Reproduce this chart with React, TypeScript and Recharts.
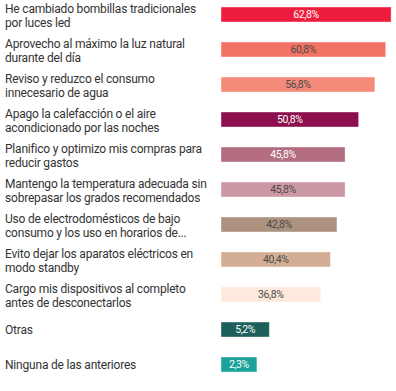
import React from 'react'
import { BarChart, Bar, XAxis, YAxis } from 'recharts'

// Categories (line breaks as in the original)
const categories = [
  'He cambiado bombillas tradicionales\npor luces led',
  'Aprovecho al máximo la luz natural\ndurante del día',
  'Reviso y reduzco el consumo\ninnecesario de agua',
  'Apago la calefacción o el aire\nacondicionado por las noches',
  'Planifico y optimizo mis compras para\nreducir gastos',
  'Mantengo la temperatura adecuada sin\nsobrepasar los grados recomendados',
  'Uso de electrodomésticos de bajo\nconsumo y los uso en horarios de...',
  'Evito dejar los aparatos eléctricos en\nmodo standby',
  'Cargo mis dispositivos al completo\nantes de desconectarlos',
  'Otras',
  'Ninguna de las anteriores',
]

// Percent of respondents
const values = [62.8, 60.8, 56.8, 50.8, 45.8, 45.8, 42.8, 40.4, 36.8, 5.2, 2.3]

const barColors = [
  '#EF1D3D', '#F27264', '#F58A7A', '#8D0F4D', '#B36C80', '#CD98A5',
  '#AD9280', '#D3AE95', '#FDE9DD', '#1E5F5C', '#1BA29A',
]

// white text on the dark bars
const lightText = [true, false, false, true, true, false, false, false, false, true, true]

const data = categories.map((name, i) => ({ name, value: values[i] }))

const fmt = (v: number) => v.toFixed(1).replace('.', ',') + '%'

const CategoryTick = (props: any) => {
  const { y, payload } = props
  const lines = String(payload.value).split('\n')
  return (
    <text
      x={5}
      y={y}
      fill="#333"
      fontSize={12}
      letterSpacing={-0.2}
      fontFamily="Roboto, 'Noto Sans', sans-serif"
      textAnchor="start"
    >
      {lines.length === 1 ? (
        <tspan x={5} dy={4.5}>{lines[0]}</tspan>
      ) : (
        lines.map((ln, i) => (
          <tspan key={i} x={5} dy={i === 0 ? -2 : 14.5}>{ln}</tspan>
        ))
      )}
    </text>
  )
}

// bar rect + centred value label
const LabeledBar = (props: any) => {
  const { x, y, width, height, index, value } = props
  const v = Array.isArray(value) ? value[1] - value[0] : value
  return (
    <g>
      <rect
        x={x}
        y={y}
        width={width}
        height={height}
        fill={barColors[index]}
        stroke="rgba(255,255,255,0.4)"
        strokeWidth={1}
      />
      <text
        x={x + width / 2}
        y={y + height / 2 + 0.5}
        textAnchor="middle"
        dominantBaseline="middle"
        fontSize={10.5}
        letterSpacing={-0.4}
        fontFamily="Roboto, 'Noto Sans', sans-serif"
        fill={lightText[index] ? '#ffffff' : '#4a4a4a'}
      >
        {fmt(v)}
      </text>
    </g>
  )
}

// tiny bars get some room for their label, like the original
const minBar = (v: number) => (v < 10 ? 26 + v * 4.3 : 0)

export default function App() {
  return (
    <div style={{ position: 'absolute', left: 0, top: -3, background: '#fff' }}>
      <BarChart
        layout="vertical"
        width={396}
        height={385}
        data={data}
        margin={{ top: 0, right: 0, left: 0, bottom: 0 }}
      >
        <XAxis type="number" hide domain={[0, 64.6]} />
        <YAxis
          type="category"
          dataKey="name"
          width={221}
          axisLine={false}
          tickLine={false}
          interval={0}
          tick={<CategoryTick />}
        />
        <Bar
          dataKey="value"
          barSize={15}
          isAnimationActive={false}
          minPointSize={minBar}
          shape={<LabeledBar />}
        />
      </BarChart>
    </div>
  )
}
